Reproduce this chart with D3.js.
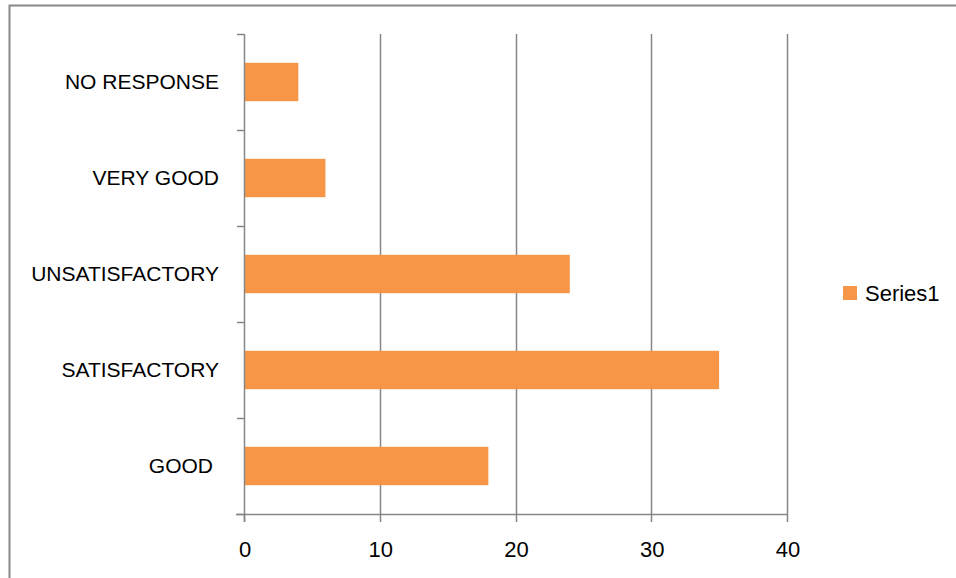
<!DOCTYPE html>
<html><head><meta charset="utf-8">
<script src="https://cdn.jsdelivr.net/npm/d3@7"></script>
<style>html,body{margin:0;padding:0;background:#fff;}svg{display:block;}</style>
</head><body>
<svg id="c" width="956" height="578"></svg>
<script>
const categories = ["NO RESPONSE", "VERY GOOD", "UNSATISFACTORY", "SATISFACTORY", "GOOD"];
const values = [4, 6, 24, 35, 18];
const xTicks = [0, 10, 20, 30, 40];
const seriesName = "Series1";

const svg = d3.select("#c");
const font = "'Liberation Sans', Arial, sans-serif";
const gridColor = "#868686";
const barColor = "#F79646";

// outer frame
svg.append("rect").attr("x", 9.5).attr("y", 5.5).attr("width", 960).attr("height", 600)
  .attr("fill", "none").attr("stroke", "#888").attr("stroke-width", 2);

const m = {left: 244, right: 787, top: 34, bottom: 514};
const x = d3.scaleLinear().domain([0, 40]).range([m.left, m.right]);
const yb = d3.scaleBand().domain(categories).range([m.top, m.bottom]);

// gridlines
svg.append("g").selectAll("line").data(xTicks.slice(1)).join("line")
  .attr("x1", d => Math.round(x(d)) + 0.5).attr("x2", d => Math.round(x(d)) + 0.5)
  .attr("y1", m.top).attr("y2", m.bottom)
  .attr("stroke", gridColor).attr("stroke-width", 1.5);

// bars
svg.append("g").selectAll("rect").data(categories).join("rect")
  .attr("x", x(0)).attr("y", d => yb(d) + yb.bandwidth() * 0.3)
  .attr("width", (d, i) => x(values[i]) - x(0))
  .attr("height", yb.bandwidth() * 0.4)
  .attr("fill", barColor);

// y axis
const yAxis = svg.append("g");
yAxis.append("line").attr("x1", m.left + 0.5).attr("x2", m.left + 0.5)
  .attr("y1", m.top).attr("y2", m.bottom + 8).attr("stroke", gridColor).attr("stroke-width", 1.5);
const bounds = categories.map(c => yb(c)).concat([m.bottom]);
yAxis.selectAll("line.t").data(bounds).join("line").attr("class", "t")
  .attr("x1", m.left - 7).attr("x2", m.left)
  .attr("y1", d => Math.round(d) + 0.5).attr("y2", d => Math.round(d) + 0.5)
  .attr("stroke", gridColor).attr("stroke-width", 1.5);
yAxis.selectAll("text").data(categories).join("text")
  .attr("x", 219).attr("y", d => yb(d) + yb.bandwidth() / 2)
  .attr("dy", "0.35em").attr("text-anchor", "end")
  .attr("font-family", font).attr("font-size", 21).attr("fill", "#000")
  .attr("dx", d => d === "GOOD" ? -6 : 0)
  .text(d => d);

// x axis
const xAxis = svg.append("g");
xAxis.append("line").attr("x1", m.left - 8).attr("x2", m.right)
  .attr("y1", m.bottom + 0.5).attr("y2", m.bottom + 0.5)
  .attr("stroke", gridColor).attr("stroke-width", 1.5);
xAxis.selectAll("line.t").data(xTicks).join("line").attr("class", "t")
  .attr("x1", d => Math.round(x(d)) + 0.5).attr("x2", d => Math.round(x(d)) + 0.5)
  .attr("y1", m.bottom).attr("y2", m.bottom + 8)
  .attr("stroke", gridColor).attr("stroke-width", 1.5);
xAxis.selectAll("text").data(xTicks).join("text")
  .attr("x", d => x(d) + 1).attr("y", 549).attr("dy", "0.35em")
  .attr("text-anchor", "middle")
  .attr("font-family", font).attr("font-size", 22).attr("fill", "#000")
  .text(d => d);

// legend
const lg = svg.append("g");
lg.append("rect").attr("x", 843).attr("y", 286).attr("width", 14).attr("height", 14).attr("fill", barColor);
lg.append("text").attr("x", 865).attr("y", 293).attr("dy", "0.35em")
  .attr("font-family", font).attr("font-size", 22).attr("fill", "#000").text(seriesName);
</script>
</body></html>
